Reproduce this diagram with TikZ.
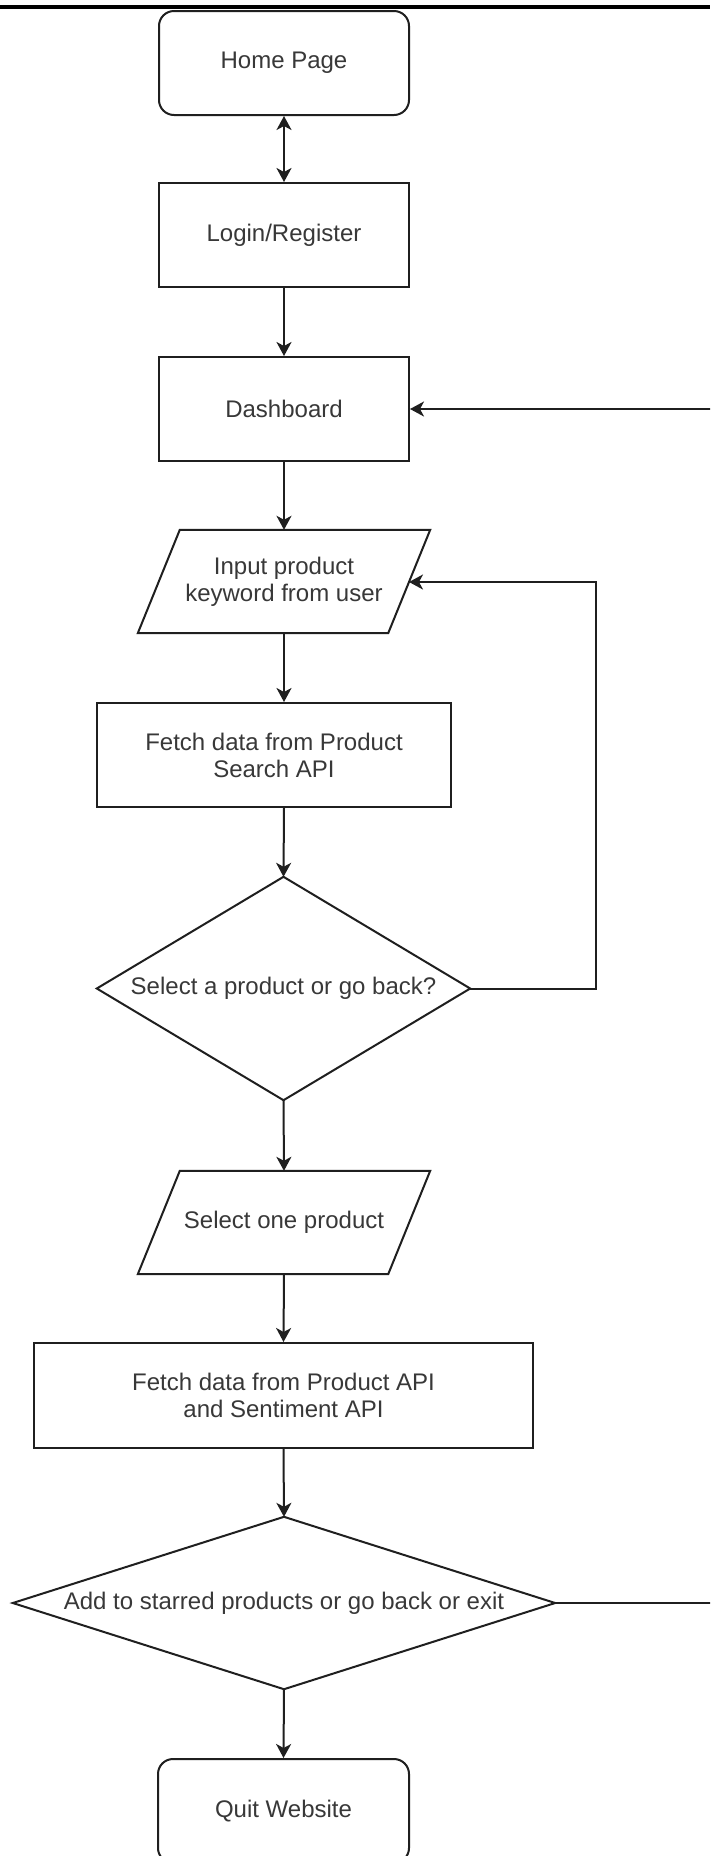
\documentclass[tikz,border=0pt]{standalone}
\usepackage{fontspec}
\setmainfont{Liberation Sans}
\usetikzlibrary{arrows.meta}
\begin{document}
\begin{tikzpicture}[x=1pt,y=-1pt,
  lbl/.style={font=\fontsize{24}{27}\selectfont, text=black!78, align=center},
  box/.style={rectangle, draw=black!88, line width=2pt, minimum width=250pt, minimum height=104pt, inner sep=0pt, lbl},
  rbox/.style={box, rounded corners=15pt},
  ghost/.style={rectangle, inner sep=0pt, lbl},
  shp/.style={draw=black!88, line width=2pt, line join=miter},
  arr/.style={draw=black!88, line width=2pt, -{Stealth[length=14pt,width=15pt,inset=4pt]}},
  darr/.style={draw=black!88, line width=2pt, {Stealth[length=14pt,width=15pt,inset=4pt]}-{Stealth[length=14pt,width=15pt,inset=4pt]}}]
\useasboundingbox (0,0) rectangle (710,1856);
\clip (0,0) rectangle (710,1856);
\fill[white] (0,0) rectangle (710,1856);

% top rule
\coordinate (ruleL) at (0,7);
\coordinate (ruleR) at (710,7);
\draw[line width=4pt, black] (ruleL) -- (ruleR);

% nodes
\node[rbox] (home) at (284,63) {Home Page};
\node[box] (login) at (284,235) {Login/Register};
\node[box] (dash) at (284,409) {Dashboard};

\node[ghost, minimum width=292pt, minimum height=103pt] (inp) at (284,581.5) {Input product\\keyword from user};
\draw[shp] ([xshift=42pt]inp.north west) -- (inp.north east) -- ([xshift=-42pt]inp.south east) -- (inp.south west) -- cycle;

\node[box, minimum width=354pt] (fetch1) at (274,755) {Fetch data from Product\\Search API};

\node[ghost, minimum width=373pt, minimum height=223pt] (dec1) at (283.5,988.5) {Select a product or go back?};
\draw[shp] (dec1.north) -- (dec1.east) -- (dec1.south) -- (dec1.west) -- cycle;

\node[ghost, minimum width=292pt, minimum height=103pt] (sel) at (284,1222.5) {Select one product};
\draw[shp] ([xshift=42pt]sel.north west) -- (sel.north east) -- ([xshift=-42pt]sel.south east) -- (sel.south west) -- cycle;

\node[box, minimum width=499pt, minimum height=105pt] (fetch2) at (283.5,1395.5) {Fetch data from Product API\\and Sentiment API};

\node[ghost, minimum width=542pt, minimum height=172pt] (dec2) at (284,1603) {Add to starred products or go back or exit};
\draw[shp] (dec2.north) -- (dec2.east) -- (dec2.south) -- (dec2.west) -- cycle;

\node[rbox, minimum width=251pt] (quit) at (283.5,1811) {Quit Website};

% connectors
\draw[darr] (home.south) -- (login.north);
\draw[arr] (login.south) -- (dash.north);
\draw[arr] (dash.south) -- (inp.north);
\draw[arr] (inp.south) -- (inp.south |- fetch1.north);
\draw[arr] (fetch1.south -| inp.south) -- (dec1.north);
\draw[arr] (dec1.south) -- (sel.north);
\draw[arr] (sel.south) -- (fetch2.north);
\draw[arr] (fetch2.south) -- (dec2.north);
\draw[arr] (dec2.south) -- (quit.north);

\coordinate (inpR) at (409,582);
\draw[arr] (dec1.east) -- ++(126,0) |- (inpR);
\draw[arr] (dec2.east) -- ++(170,0) |- (dash.east);
\end{tikzpicture}
\end{document}
